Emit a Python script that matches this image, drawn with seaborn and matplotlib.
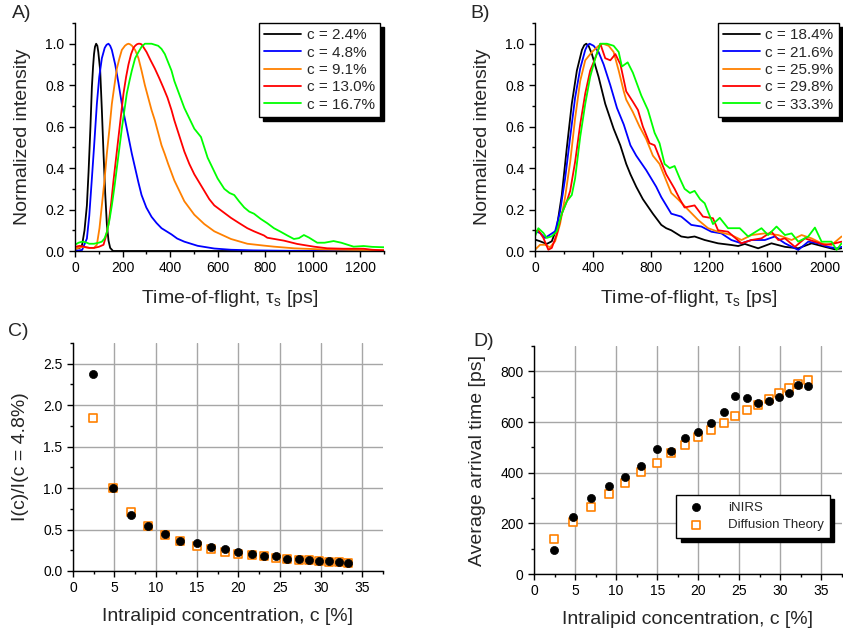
import numpy as np
import pandas as pd
import matplotlib
matplotlib.use("Agg")
import matplotlib.pyplot as plt
from matplotlib.ticker import MultipleLocator
import seaborn as sns

# ---------------- data ----------------
# Panel A: normalized TOF distributions, low concentrations
a_labels = ["c = 2.4%", "c = 4.8%", "c = 9.1%", "c = 13.0%", "c = 16.7%"]
a_t_24 = [0, 20, 30, 40, 50, 57, 65, 71, 76, 80, 84, 89, 94, 98, 106, 113, 120, 127, 134, 141, 148, 160, 200, 400, 600, 800, 1000, 1300]
a_v_24 = [0.01, 0.015, 0.03, 0.1, 0.22, 0.38, 0.6, 0.79, 0.89, 0.95, 0.985, 1.0, 0.99, 0.96, 0.87, 0.68, 0.47, 0.28, 0.13, 0.05, 0.015, 0.0, 0, 0, 0, 0, 0, 0]
a_t_48 = [0, 30, 50, 60, 71, 80, 92, 102, 113, 125, 133, 141, 148, 155, 169, 183, 197, 211, 225, 239, 253, 267, 280, 300, 322, 343, 364, 385, 406, 430, 460, 516, 586, 656, 750, 900, 1100, 1300]
a_v_48 = [0.0, 0.005, 0.06, 0.17, 0.35, 0.5, 0.71, 0.84, 0.93, 0.98, 0.995, 1.0, 0.99, 0.97, 0.90, 0.81, 0.71, 0.63, 0.55, 0.47, 0.40, 0.33, 0.27, 0.21, 0.165, 0.135, 0.11, 0.095, 0.08, 0.06, 0.045, 0.025, 0.012, 0.006, 0.003, 0.001, 0.0, 0.0]
a_t_91 = [0, 30, 60, 80, 92, 103, 113, 124, 134, 145, 155, 166, 176, 187, 197, 210, 218, 225, 232, 240, 253, 267, 280, 294, 308, 322, 336, 350, 364, 377, 392, 418, 460, 502, 544, 586, 656, 725, 795, 837, 921, 1033, 1172, 1300]
a_v_91 = [0.01, 0.02, 0.015, 0.015, 0.03, 0.11, 0.22, 0.34, 0.47, 0.59, 0.71, 0.80, 0.88, 0.93, 0.97, 0.99, 0.997, 1.0, 0.997, 0.99, 0.97, 0.93, 0.87, 0.80, 0.74, 0.68, 0.63, 0.57, 0.51, 0.47, 0.42, 0.34, 0.24, 0.175, 0.13, 0.095, 0.058, 0.035, 0.026, 0.021, 0.013, 0.008, 0.005, 0.004]
a_t_130 = [0, 20, 40, 60, 80, 100, 110, 120, 130, 141, 152, 162, 173, 183, 194, 204, 215, 225, 236, 246, 253, 260, 267, 273, 280, 287, 301, 318, 336, 354, 371, 389, 406, 418, 439, 460, 481, 502, 523, 544, 565, 586, 621, 656, 690, 725, 753, 795, 809, 879, 935, 1005, 1061, 1130, 1214, 1250, 1300]
a_v_130 = [0.02, 0.025, 0.02, 0.015, 0.015, 0.02, 0.025, 0.03, 0.07, 0.13, 0.23, 0.34, 0.45, 0.55, 0.66, 0.76, 0.84, 0.90, 0.95, 0.98, 0.99, 0.997, 1.0, 1.0, 0.997, 0.985, 0.96, 0.92, 0.88, 0.835, 0.79, 0.74, 0.68, 0.63, 0.555, 0.48, 0.42, 0.37, 0.33, 0.29, 0.25, 0.22, 0.19, 0.16, 0.135, 0.11, 0.095, 0.075, 0.064, 0.05, 0.034, 0.021, 0.013, 0.011, 0.011, 0.006, 0.003]
a_t_167 = [0, 15, 30, 45, 60, 80, 100, 113, 124, 134, 145, 155, 166, 176, 187, 197, 208, 218, 229, 239, 253, 267, 280, 294, 308, 322, 336, 350, 364, 378, 392, 406, 418, 439, 460, 481, 502, 516, 530, 544, 558, 579, 600, 628, 650, 670, 690, 712, 733, 753, 781, 809, 837, 865, 893, 921, 942, 963, 984, 1019, 1050, 1088, 1120, 1172, 1214, 1250, 1300]
a_v_167 = [0.03, 0.04, 0.045, 0.042, 0.035, 0.035, 0.04, 0.045, 0.06, 0.09, 0.15, 0.22, 0.31, 0.40, 0.50, 0.59, 0.68, 0.76, 0.82, 0.87, 0.93, 0.96, 0.985, 1.0, 1.0, 1.0, 0.995, 0.99, 0.975, 0.95, 0.91, 0.87, 0.82, 0.755, 0.69, 0.64, 0.59, 0.57, 0.55, 0.50, 0.45, 0.40, 0.35, 0.30, 0.28, 0.27, 0.24, 0.21, 0.19, 0.18, 0.155, 0.134, 0.11, 0.093, 0.075, 0.058, 0.062, 0.077, 0.065, 0.04, 0.04, 0.048, 0.04, 0.021, 0.024, 0.02, 0.018]

# Panel B: normalized TOF distributions, high concentrations
b_labels = ["c = 18.4%", "c = 21.6%", "c = 25.9%", "c = 29.8%", "c = 33.3%"]
b_t_184 = [0, 35, 81, 116, 150, 185, 220, 254, 289, 324, 340, 354, 370, 393, 439, 485, 543, 589, 630, 659, 699, 745, 814, 872, 906, 941, 1010, 1056, 1102, 1172, 1264, 1356, 1403, 1449, 1541, 1633, 1726, 1818, 1910, 2002, 2071, 2117]
b_v_184 = [0.055, 0.047, 0.034, 0.047, 0.11, 0.27, 0.50, 0.71, 0.87, 0.97, 0.993, 1.0, 0.99, 0.95, 0.84, 0.71, 0.59, 0.51, 0.42, 0.37, 0.31, 0.25, 0.18, 0.126, 0.11, 0.10, 0.07, 0.065, 0.07, 0.053, 0.037, 0.029, 0.024, 0.034, 0.013, 0.037, 0.02, 0.013, 0.037, 0.02, 0.008, 0.013]
b_t_216 = [0, 35, 69, 104, 139, 173, 208, 243, 277, 312, 347, 362, 377, 405, 439, 474, 520, 566, 613, 659, 699, 768, 837, 872, 941, 1010, 1079, 1149, 1218, 1287, 1356, 1426, 1495, 1587, 1656, 1726, 1818, 1887, 1956, 2025, 2083, 2117]
b_v_216 = [0.095, 0.087, 0.063, 0.079, 0.095, 0.19, 0.35, 0.55, 0.74, 0.88, 0.97, 0.993, 1.0, 0.99, 0.96, 0.90, 0.80, 0.69, 0.61, 0.51, 0.46, 0.39, 0.31, 0.26, 0.18, 0.166, 0.126, 0.118, 0.093, 0.085, 0.053, 0.037, 0.053, 0.053, 0.07, 0.037, 0.005, 0.045, 0.037, 0.02, 0.013, 0.02]
b_t_259 = [0, 35, 69, 104, 139, 173, 208, 243, 277, 312, 347, 393, 439, 469, 509, 543, 578, 613, 630, 676, 722, 768, 814, 860, 906, 941, 987, 1056, 1126, 1195, 1264, 1356, 1426, 1495, 1587, 1680, 1772, 1841, 1910, 1979, 2048, 2117]
b_v_259 = [0.006, 0.03, 0.03, 0.018, 0.047, 0.13, 0.26, 0.43, 0.64, 0.82, 0.92, 0.96, 0.99, 1.0, 0.99, 0.96, 0.87, 0.77, 0.73, 0.67, 0.60, 0.54, 0.46, 0.42, 0.34, 0.28, 0.25, 0.20, 0.15, 0.11, 0.093, 0.077, 0.053, 0.077, 0.085, 0.077, 0.053, 0.077, 0.061, 0.037, 0.029, 0.07]
b_t_298 = [0, 23, 58, 92, 116, 150, 185, 220, 243, 277, 312, 347, 381, 416, 451, 485, 520, 555, 590, 630, 676, 711, 745, 791, 826, 860, 906, 964, 1000, 1033, 1102, 1160, 1229, 1264, 1333, 1426, 1495, 1564, 1633, 1680, 1726, 1795, 1864, 1933, 2002, 2071, 2117]
b_v_298 = [0.095, 0.10, 0.063, 0.006, 0.015, 0.08, 0.18, 0.24, 0.29, 0.43, 0.61, 0.76, 0.87, 0.93, 1.0, 0.93, 0.92, 0.95, 0.90, 0.77, 0.72, 0.68, 0.60, 0.52, 0.51, 0.45, 0.37, 0.30, 0.25, 0.21, 0.22, 0.166, 0.158, 0.10, 0.093, 0.037, 0.053, 0.061, 0.093, 0.053, 0.061, 0.02, 0.061, 0.045, 0.029, 0.037, 0.045]
b_t_333 = [0, 23, 58, 81, 116, 150, 185, 220, 254, 277, 312, 347, 381, 416, 451, 497, 543, 578, 600, 640, 676, 734, 780, 826, 860, 895, 930, 964, 1000, 1033, 1070, 1102, 1140, 1172, 1229, 1276, 1333, 1414, 1472, 1564, 1610, 1668, 1726, 1772, 1818, 1887, 1933, 1979, 2048, 2083, 2117]
b_v_333 = [0.071, 0.11, 0.087, 0.063, 0.071, 0.095, 0.18, 0.24, 0.27, 0.35, 0.55, 0.71, 0.84, 0.93, 1.0, 1.0, 0.99, 0.96, 0.89, 0.91, 0.86, 0.75, 0.68, 0.57, 0.52, 0.42, 0.40, 0.41, 0.35, 0.30, 0.28, 0.29, 0.25, 0.23, 0.13, 0.16, 0.11, 0.11, 0.07, 0.11, 0.077, 0.118, 0.077, 0.085, 0.045, 0.07, 0.113, 0.045, 0.045, 0.005, 0.037]

# Panels C and D: concentration series
conc = [2.4, 4.8, 7.0, 9.1, 11.1, 13.0, 15.0, 16.7, 18.4, 20.0, 21.6, 23.1, 24.5, 25.9, 27.3, 28.6, 29.8, 31.0, 32.2, 33.3]
c_inirs = [2.38, 1.0, 0.67, 0.54, 0.445, 0.365, 0.335, 0.29, 0.265, 0.23, 0.205, 0.18, 0.175, 0.15, 0.145, 0.13, 0.125, 0.12, 0.11, 0.10]
c_theory = [1.85, 1.0, 0.71, 0.54, 0.435, 0.36, 0.305, 0.26, 0.233, 0.21, 0.19, 0.175, 0.16, 0.147, 0.137, 0.128, 0.12, 0.112, 0.105, 0.098]
d_inirs = [94, 224, 299, 348, 381, 428, 493, 484, 538, 561, 598, 639, 701, 696, 676, 681, 697, 713, 746, 742]
d_theory = [140, 207, 264, 315, 358, 402, 440, 476, 510, 539, 569, 597, 623, 648, 668, 692, 714, 733, 750, 767]

curve_colors = ["#000000", "#0000FF", "#FF8000", "#FF0000", "#00FF00"]
ORANGE = "#FF8000"

# ---------------- style ----------------
sns.set_style("ticks")
plt.rcParams["font.family"] = ["Liberation Sans", "DejaVu Sans"]
plt.rcParams["mathtext.fontset"] = "custom"
plt.rcParams["mathtext.rm"] = "Liberation Sans"
plt.rcParams["mathtext.it"] = "Liberation Sans"
plt.rcParams["axes.linewidth"] = 1.0
plt.rcParams["axes.edgecolor"] = "black"

W, H = 843, 629
fig = plt.figure(figsize=(W / 100, H / 100), dpi=100)

def add_axes(left, top, right, bottom):
    return fig.add_axes([left / W, 1 - bottom / H, (right - left) / W, (bottom - top) / H])

axA = add_axes(75, 23, 384, 251)
axB = add_axes(535, 23, 842, 251)
axC = add_axes(73, 343, 383, 571)
axD = add_axes(534, 346, 842, 574)

TICK_FS = 10
LAB_FS = 14
SHADOW = {"color": "black", "alpha": 1.0, "ox": 3, "oy": -3}

def style_axes(ax):
    sns.despine(ax=ax)
    ax.tick_params(which="major", direction="out", length=4, width=1, labelsize=TICK_FS, color="black", labelcolor="black")
    ax.tick_params(which="minor", direction="out", length=2.5, width=1, color="black")

def frame_legend(leg):
    leg.get_frame().set_edgecolor("black")
    leg.get_frame().set_linewidth(1.0)
    leg.get_frame().set_alpha(1.0)

def long_df(ts, vs, labels):
    frames = []
    for t, v, lab in zip(ts, vs, labels):
        frames.append(pd.DataFrame({"t": t, "v": v, "series": lab}))
    return pd.concat(frames, ignore_index=True)

def curve_panel(ax, df, labels, xmax, xmaj, xmin):
    sns.lineplot(data=df, x="t", y="v", hue="series", hue_order=labels,
                 palette=dict(zip(labels, curve_colors)), estimator=None,
                 sort=False, lw=1.3, ax=ax)
    ax.set_xlim(0, xmax)
    ax.set_ylim(0, 1.1)
    ax.xaxis.set_major_locator(MultipleLocator(xmaj))
    ax.xaxis.set_minor_locator(MultipleLocator(xmin))
    ax.yaxis.set_major_locator(MultipleLocator(0.2))
    ax.yaxis.set_minor_locator(MultipleLocator(0.1))
    ax.yaxis.set_major_formatter(matplotlib.ticker.FormatStrFormatter("%.1f"))
    style_axes(ax)
    ax.set_xlabel("Time-of-flight, τ$_\\mathrm{s}$ [ps]", fontsize=LAB_FS, labelpad=9)
    ax.set_ylabel("Normalized intensity", fontsize=LAB_FS, labelpad=10)

dfA = long_df([a_t_24, a_t_48, a_t_91, a_t_130, a_t_167],
              [a_v_24, a_v_48, a_v_91, a_v_130, a_v_167], a_labels)
dfB = long_df([b_t_184, b_t_216, b_t_259, b_t_298, b_t_333],
              [b_v_184, b_v_216, b_v_259, b_v_298, b_v_333], b_labels)

curve_panel(axA, dfA, a_labels, 1300, 200, 100)
curve_panel(axB, dfB, b_labels, 2120, 400, 200)

for ax, anchor in ((axA, (0.987, 1.0)), (axB, (0.99, 1.0))):
    leg = ax.legend(loc="upper right", bbox_to_anchor=anchor, borderaxespad=0,
                    fontsize=11, frameon=True, fancybox=False, shadow=SHADOW,
                    handlelength=2.4, handletextpad=0.35, labelspacing=0.22,
                    borderpad=0.35)
    frame_legend(leg)
    for l in leg.get_lines():
        l.set_linewidth(1.3)

# Panels C and D
dfC = pd.DataFrame({"c": conc * 2,
                    "val": c_theory + c_inirs,
                    "kind": ["Diffusion Theory"] * len(conc) + ["iNIRS"] * len(conc)})
dfD = pd.DataFrame({"c": conc * 2,
                    "val": d_inirs + d_theory,
                    "kind": ["iNIRS"] * len(conc) + ["Diffusion Theory"] * len(conc)})

def scatter_panel(ax, df, order):
    for kind in order:
        sub = df[df["kind"] == kind]
        if kind == "iNIRS":
            sns.scatterplot(data=sub, x="c", y="val", ax=ax, marker="o", s=34,
                            color="black", edgecolor="black", linewidth=0.5,
                            label=kind, zorder=4)
        else:
            sns.scatterplot(data=sub, x="c", y="val", ax=ax, marker="s", s=26,
                            facecolor="white", edgecolor=ORANGE, linewidth=1.2,
                            label=kind, zorder=3)
    ax.set_xlim(0, 37.5)
    ax.xaxis.set_major_locator(MultipleLocator(5))
    ax.xaxis.set_minor_locator(MultipleLocator(2.5))
    ax.grid(True, which="major", color="#a6a6a6", lw=1.0, zorder=0)
    ax.set_axisbelow(True)
    style_axes(ax)
    ax.set_xlabel("Intralipid concentration, c [%]", fontsize=LAB_FS, labelpad=9)

scatter_panel(axC, dfC, ["Diffusion Theory", "iNIRS"])
axC.set_ylim(0, 2.75)
axC.yaxis.set_major_locator(MultipleLocator(0.5))
axC.yaxis.set_minor_locator(MultipleLocator(0.25))
axC.yaxis.set_major_formatter(matplotlib.ticker.FormatStrFormatter("%.1f"))
axC.set_ylabel("I(c)/I(c = 4.8%)", fontsize=LAB_FS, labelpad=10)
axC.get_legend().remove()

scatter_panel(axD, dfD, ["iNIRS", "Diffusion Theory"])
axD.set_ylim(0, 900)
axD.yaxis.set_major_locator(MultipleLocator(200))
axD.yaxis.set_minor_locator(MultipleLocator(100))
axD.set_ylabel("Average arrival time [ps]", fontsize=LAB_FS, labelpad=10)
legD = axD.legend(loc="lower right", bbox_to_anchor=(0.962, 0.158), borderaxespad=0,
                  fontsize=9.5, frameon=True, fancybox=False, shadow=SHADOW,
                  handletextpad=1.4, borderpad=0.5, labelspacing=0.4)
frame_legend(legD)

# Panel labels
for txt, x, y in (("A)", 12, 14), ("B)", 470, 14), ("C)", 8, 332), ("D)", 473, 341)):
    fig.text(x / W, 1 - y / H, txt, fontsize=LAB_FS, ha="left", va="center")

fig.savefig("out.png", dpi=100)
